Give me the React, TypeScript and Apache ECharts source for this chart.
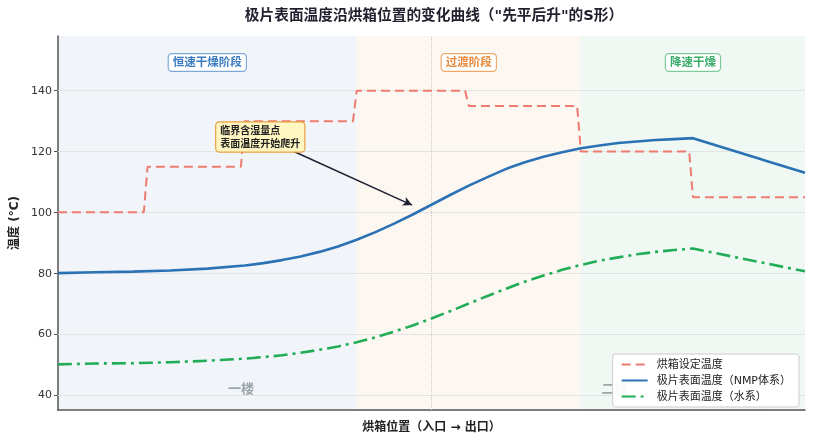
import React, { useEffect, useRef } from "react";
import * as echarts from "echarts";

const positions = [0, 0.5, 1, 1.5, 2, 2.5, 2.75, 3, 3.25, 3.5, 3.75, 4, 4.25, 4.5, 4.75, 5, 5.25, 5.5, 5.75, 6, 6.25, 6.5, 6.75, 7, 7.25, 7.5, 7.75, 8, 8.25, 8.5, 10];
const nmpTemp = [80.0, 80.3, 80.5, 80.9, 81.5, 82.5, 83.3, 84.3, 85.5, 87.0, 88.8, 91.0, 93.5, 96.3, 99.3, 102.5, 105.7, 108.8, 111.6, 114.3, 116.5, 118.3, 119.8, 121.1, 122.0, 122.8, 123.3, 123.8, 124.1, 124.4, 113.0];
const waterTemp = [50.0, 50.3, 50.4, 50.7, 51.2, 51.9, 52.4, 53.0, 53.8, 54.8, 55.9, 57.3, 58.9, 60.8, 62.8, 65.1, 67.5, 70.0, 72.5, 74.9, 77.2, 79.2, 81.1, 82.7, 84.1, 85.2, 86.2, 87.0, 87.6, 88.1, 80.6];

const setStepEdges = [0, 1.2, 2.5, 4.0, 5.5, 7.0, 8.5, 10];
const setTemps = [100, 115, 130, 140, 135, 120, 105];

const stageRanges = [[0, 4], [4, 7], [7, 10]];
const stageNames = ["恒速干燥阶段", "过渡阶段", "降速干燥"];
const stageFill = ["#F1F5FA", "#FCF7F1", "#F0F8F3"];
const stageTextColor = ["#3D7CC0", "#E8893A", "#3DAE6A"];
const stageBorder = ["#7FA8D6", "#F0A86A", "#7FCB9A"];
const stageLabelPos = [[2, 149.3], [5.5, 149.3], [8.5, 149.3]];

const floorNames = ["一楼", "二楼"];
const floorPos = [[2.45, 42], [7.45, 42]];

const yTicks = [40, 60, 80, 100, 120, 140];

const annotText = "临界含湿量点\n表面温度开始爬升";
const annotBoxPos = [2.12, 124.8];
const annotArrowFrom = [3.16, 120];
const annotArrowTo = [4.74, 102.4];

const FONT = "'DejaVu Sans', 'Noto Sans CJK SC', sans-serif";

export default function App() {
  const ref = useRef<HTMLDivElement>(null);
  useEffect(() => {
    if (!ref.current) return;
    const chart = echarts.init(ref.current, undefined, { renderer: "svg" });

    const setData: number[][] = [];
    for (let i = 0; i < setTemps.length; i++) {
      const start = setStepEdges[i];
      const end = i === setTemps.length - 1 ? setStepEdges[i + 1] : setStepEdges[i + 1] - 0.05;
      setData.push([start, setTemps[i]]);
      setData.push([end, setTemps[i]]);
    }
    const nmpData = positions.map((x, i) => [x, nmpTemp[i]]);
    const waterData = positions.map((x, i) => [x, waterTemp[i]]);

    chart.setOption({
      animation: false,
      textStyle: { fontFamily: FONT },
      title: {
        text: "极片表面温度沿烘箱位置的变化曲线（\"先平后升\"的S形）",
        left: 429,
        textAlign: "center",
        top: 2,
        textStyle: { fontSize: 14.7, fontWeight: "bold", color: "#1f1f2e", fontFamily: FONT },
      },
      grid: { left: 53, right: 8, top: 36, bottom: 26, containLabel: false },
      legend: {
        data: ["烘箱设定温度", "极片表面温度（NMP体系）", "极片表面温度（水系）"],
        orient: "vertical",
        right: 14,
        bottom: 31,
        itemWidth: 26,
        itemHeight: 10,
        itemGap: 5,
        padding: [5, 8, 5, 8],
        backgroundColor: "rgba(255,255,255,0.92)",
        borderColor: "#cccccc",
        borderWidth: 1,
        borderRadius: 3,
        z: 10,
        itemStyle: { opacity: 0 },
        textStyle: { fontSize: 11, color: "#222", fontFamily: FONT, padding: [0, 0, 0, 4] },
      },
      xAxis: {
        type: "value",
        min: 0,
        max: 10,
        name: "烘箱位置（入口 → 出口）",
        nameLocation: "middle",
        nameGap: 11,
        nameTextStyle: { fontSize: 12, fontWeight: "bold", color: "#222", fontFamily: FONT },
        axisLine: { show: true, lineStyle: { color: "#555", width: 1.5 } },
        axisTick: { show: false },
        axisLabel: { show: false },
        splitLine: { show: false },
      },
      yAxis: {
        type: "value",
        min: 35,
        max: 158,
        name: "温度 (°C)",
        nameLocation: "middle",
        nameGap: 36,
        nameTextStyle: { fontSize: 12, fontWeight: "bold", color: "#222", fontFamily: FONT },
        axisLine: { show: true, lineStyle: { color: "#555", width: 1.5 } },
        axisTick: { show: true, customValues: yTicks, length: 4, lineStyle: { color: "#555" } },
        axisLabel: { customValues: yTicks, fontSize: 11, color: "#333", margin: 6, fontFamily: FONT },
        splitLine: { show: false },
      },
      series: [
        {
          name: "bg",
          type: "line",
          data: [],
          z: 1,
          silent: true,
          markArea: {
            silent: true,
            z: 0,
            data: stageRanges.map((r, i) => [
              { xAxis: r[0], itemStyle: { color: stageFill[i] } },
              { xAxis: r[1] },
            ]),
          },
          markLine: {
            silent: true,
            z: 1,
            symbol: ["none", "none"],
            label: { show: false },
            data: [
              ...yTicks.map((v) => ({ yAxis: v, lineStyle: { color: "#e4e4e4", width: 1, type: "solid" } })),
              { xAxis: 5, lineStyle: { color: "#c8c8c8", width: 1, type: "dotted" } },
            ],
          },
        },
        {
          name: "烘箱设定温度",
          type: "line",
          data: setData,
          symbol: "none",
          showSymbol: false,
          z: 3,
          lineStyle: { color: "#EE7B70", width: 2, type: [9, 5] },
          itemStyle: { color: "#EE7B70" },
        },
        {
          name: "极片表面温度（NMP体系）",
          type: "line",
          data: nmpData,
          symbol: "none",
          showSymbol: false,
          z: 4,
          lineStyle: { color: "#2B72B5", width: 2.6 },
          itemStyle: { color: "#2B72B5" },
        },
        {
          name: "极片表面温度（水系）",
          type: "line",
          data: waterData,
          symbol: "none",
          showSymbol: false,
          z: 4,
          lineStyle: { color: "#21AD57", width: 2.6, type: [14, 5, 3, 5] },
          itemStyle: { color: "#21AD57" },
        },
        {
          name: "labels",
          type: "line",
          data: [],
          z: 5,
          silent: true,
          markPoint: {
            silent: true,
            symbol: "rect",
            symbolSize: 0,
            data: [
              ...stageNames.map((n, i) => ({
                coord: stageLabelPos[i],
                value: n,
                label: {
                  show: true,
                  position: "inside",
                  formatter: n,
                  fontSize: 11.5,
                  fontWeight: "bold",
                  color: stageTextColor[i],
                  backgroundColor: "#ffffff",
                  borderColor: stageBorder[i],
                  borderWidth: 1.2,
                  borderRadius: 3,
                  padding: [3, 4, 2, 4],
                  fontFamily: FONT,
                },
              })),
              ...floorNames.map((n, i) => ({
                coord: floorPos[i],
                value: n,
                label: {
                  show: true,
                  position: "inside",
                  formatter: n,
                  fontSize: 13,
                  fontWeight: "bold",
                  color: "#9AA6A8",
                  fontFamily: FONT,
                },
              })),
              {
                coord: annotBoxPos,
                value: "annot",
                label: {
                  show: true,
                  position: "inside",
                  formatter: annotText,
                  align: "left",
                  fontSize: 10,
                  lineHeight: 13,
                  fontWeight: "bold",
                  color: "#222",
                  backgroundColor: "#FFF6C2",
                  borderColor: "#E8A040",
                  borderWidth: 1.2,
                  borderRadius: 3,
                  padding: [2, 4, 1, 4],
                  fontFamily: FONT,
                },
              },
            ],
          },
          markLine: {
            silent: true,
            symbol: ["none", "arrow"],
            symbolSize: [7, 9],
            label: { show: false },
            lineStyle: { color: "#1f1f33", width: 1.5, type: "solid" },
            data: [[{ coord: annotArrowFrom }, { coord: annotArrowTo }]],
          },
        },
      ],
    });
    return () => chart.dispose();
  }, []);
  return <div ref={ref} style={{ position: "fixed", left: 0, top: 0, width: 813, height: 438 }} />;
}
